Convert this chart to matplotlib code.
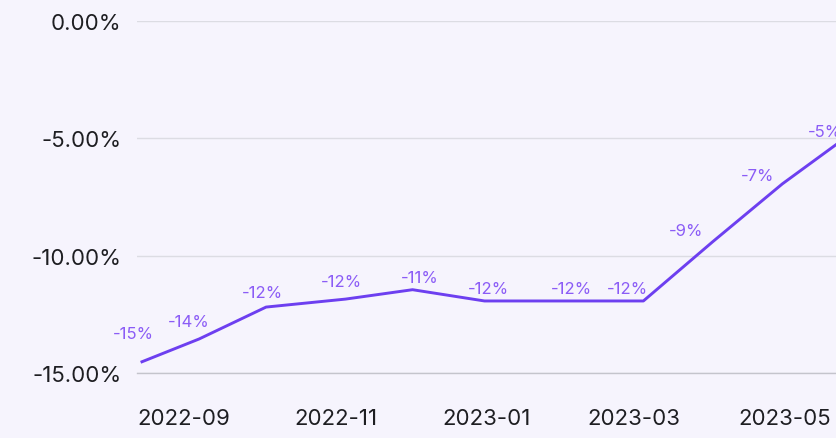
import numpy as np
import pandas as pd
import matplotlib.pyplot as plt
import matplotlib.dates as mdates
from matplotlib.ticker import FuncFormatter

plt.rcParams['font.family'] = ['Inter', 'DejaVu Sans']

# monthly change, %
dates = pd.to_datetime([
    '2022-08-15', '2022-09-07', '2022-10-04', '2022-11-05', '2022-12-02',
    '2022-12-31', '2023-02-01', '2023-03-05', '2023-04-02', '2023-04-30',
    '2023-05-22',
])
change = [-14.52, -13.55, -12.19, -11.85, -11.45, -11.93, -11.93, -11.93,
          -9.4, -6.94, -5.24]

# label nudges in pixels so the tags don't sit on the line
label_dx = [-9, -10, -4, -4, 7, 4, 7, -16, -27, -25, -12]
label_dy = [28, 17, 15, 18, 12, 12, 12, 12, 11, 8, 12]

bg = '#f6f4fd'
line_col = '#6d3ff0'
label_col = '#8b5cf6'

fig = plt.figure(figsize=(8.37, 4.39), dpi=100, facecolor=bg)
ax = fig.add_axes([0.1637, 0.148, 0.8363, 0.802], facecolor=bg)

ax.plot(dates, change, color=line_col, linewidth=2.1, solid_joinstyle='round',
        clip_on=False)

for d, v, dx, dy in zip(dates, change, label_dx, label_dy):
    ax.annotate('{:.0f}%'.format(v), (d, v), xytext=(dx, dy),
                textcoords='offset pixels', ha='center', va='center',
                fontsize=12, color=label_col, annotation_clip=False)

ax.set_ylim(-15, 0)
ax.set_xlim(pd.Timestamp('2022-08-13'), dates[-1])
ax.set_yticks([0, -5, -10, -15])
ax.yaxis.set_major_formatter(FuncFormatter(lambda v, p: '{:.2f}%'.format(v)))

ax.xaxis.set_major_locator(mdates.MonthLocator(bymonth=[1, 3, 5, 9, 11]))
ax.xaxis.set_major_formatter(mdates.DateFormatter('%Y-%m'))

ax.grid(axis='y', color='#dcdce3', linewidth=1)
ax.set_axisbelow(True)
for s in ['top', 'right', 'left']:
    ax.spines[s].set_visible(False)
ax.spines['bottom'].set_color('#c4c4cc')
ax.spines['bottom'].set_linewidth(1)

ax.tick_params(axis='both', length=0, labelsize=16, labelcolor='#1e1e22')
ax.tick_params(axis='y', pad=11)
ax.tick_params(axis='x', pad=25)

fig.savefig('out.png', dpi=100, facecolor=bg)
